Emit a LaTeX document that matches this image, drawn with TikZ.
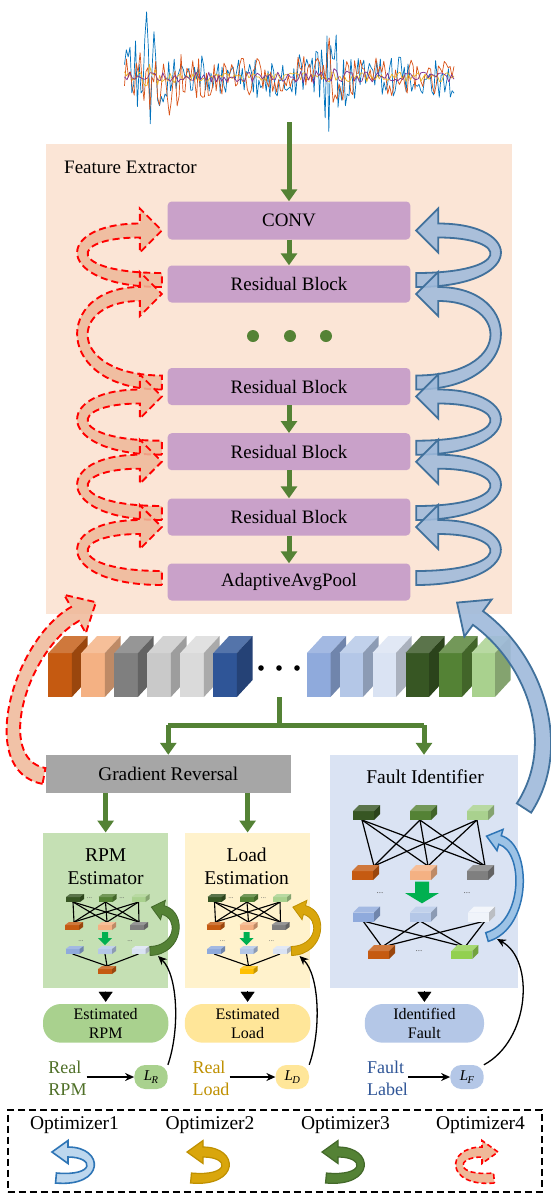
\documentclass[tikz,border=0pt]{standalone}
\usepackage{fontspec}
\setmainfont{Liberation Serif}
\usetikzlibrary{arrows.meta,calc}
\definecolor{peach}{HTML}{FBE5D6}
\definecolor{purp}{HTML}{C9A1C9}
\definecolor{gA}{HTML}{548235}
\definecolor{gAd}{HTML}{43692A}
\definecolor{gB}{HTML}{00B050}
\definecolor{grayb}{HTML}{A6A6A6}
\definecolor{faultbg}{HTML}{DAE3F3}
\definecolor{rpmbg}{HTML}{C5E0B4}
\definecolor{loadbg}{HTML}{FFF2CC}
\definecolor{pillg}{HTML}{A9D18E}
\definecolor{pilly}{HTML}{FFE699}
\definecolor{pillb}{HTML}{B4C7E7}
\definecolor{txg}{HTML}{4F7028}
\definecolor{txy}{HTML}{BF9000}
\definecolor{txb}{HTML}{2F5597}
\definecolor{ribB}{HTML}{9FBADB}
\definecolor{ribBl}{HTML}{41719C}
\definecolor{ribB2}{HTML}{9DC3E6}
\definecolor{ribBl2}{HTML}{2E75B6}
\definecolor{ribBi}{HTML}{BDD7EE}
\definecolor{ribR}{HTML}{EFB898}
\definecolor{ribRl}{HTML}{FF0000}
\definecolor{gold}{HTML}{D9A60C}
\definecolor{goldd}{HTML}{BF9000}
\definecolor{c1}{HTML}{C55A11}
\definecolor{c2}{HTML}{F4B183}
\definecolor{c3}{HTML}{7F7F7F}
\definecolor{c4}{HTML}{C9C9C9}
\definecolor{c5}{HTML}{DADADA}
\definecolor{c6}{HTML}{2F5597}
\definecolor{c7}{HTML}{8FAADC}
\definecolor{c8}{HTML}{B4C7E7}
\definecolor{c9}{HTML}{DAE3F3}
\definecolor{c10}{HTML}{375623}
\definecolor{c11}{HTML}{548235}
\definecolor{c12}{HTML}{A9D18E}
\definecolor{yel}{HTML}{FFC000}
\definecolor{lgreen}{HTML}{92D050}
\definecolor{sigb}{HTML}{0072BD}
\definecolor{sigo}{HTML}{D95319}
\definecolor{sigy}{HTML}{EDB120}
\definecolor{sigp}{HTML}{7E2F8E}
\definecolor{dotc}{HTML}{595959}

% cube: x, y (front top-left), w, h, dx, dy, colour
\newcommand\cube[7]{%
  \fill[fill=#7] (#1,#2) rectangle ({#1+#3},{#2+#4});
  \fill[fill=#7!82!white] (#1,#2) -- ({#1+#5},{#2-#6}) -- ({#1+#3+#5},{#2-#6}) -- ({#1+#3},#2) -- cycle;
  \fill[fill=#7!78!black] ({#1+#3},#2) -- ({#1+#3+#5},{#2-#6}) -- ({#1+#3+#5},{#2+#4-#6}) -- ({#1+#3},{#2+#4}) -- cycle;
}
% ribbon arrow along the curve P0 .. controls P1 and P2 .. P3
% #1-#4 points, #5 half width, #6 head half width, #7 head length, #8 fill colour, #9 outline options
\newcommand\rib[9]{%
 \coordinate (p0) at (#1); \coordinate (p1) at (#2); \coordinate (p2) at (#3); \coordinate (p3) at (#4);
 \coordinate (e1a) at ($(p0)!#5pt!90:(p1)$); \coordinate (e1b) at ($(p1)!#5pt!-90:(p0)$);
 \coordinate (e2a) at ($(p1)!#5pt!90:(p2)$); \coordinate (e2b) at ($(p2)!#5pt!-90:(p1)$);
 \coordinate (e3a) at ($(p2)!#5pt!90:(p3)$); \coordinate (e3b) at ($(p3)!#5pt!-90:(p2)$);
 \coordinate (f1a) at ($(p0)!#5pt!-90:(p1)$); \coordinate (f1b) at ($(p1)!#5pt!90:(p0)$);
 \coordinate (f2a) at ($(p1)!#5pt!-90:(p2)$); \coordinate (f2b) at ($(p2)!#5pt!90:(p1)$);
 \coordinate (f3a) at ($(p2)!#5pt!-90:(p3)$); \coordinate (f3b) at ($(p3)!#5pt!90:(p2)$);
 \coordinate (q1) at (intersection of e1a--e1b and e2a--e2b);
 \coordinate (q2) at (intersection of e2a--e2b and e3a--e3b);
 \coordinate (r1) at (intersection of f1a--f1b and f2a--f2b);
 \coordinate (r2) at (intersection of f2a--f2b and f3a--f3b);
 \coordinate (hb1) at ($(p3)!#6pt!-90:(p2)$);
 \coordinate (hb2) at ($(p3)!#6pt!90:(p2)$);
 \coordinate (ht) at ($(p3)!-#7pt!(p2)$);
 \path[fill=#8, line join=miter, #9] (e1a) .. controls (q1) and (q2) .. (e3b) -- (hb1) -- (ht) -- (hb2) -- (f3b) .. controls (r2) and (r1) .. (f1a) -- cycle;
}
\newcommand\bluecurl[2]{\rib{$(#1.east)+(5.6,-4)$}{$(#1.east)+(107.6,-4)$}{$(#2.east)+(107.6,10)$}{$(#2.east)+(27.6,10)$}{7}{22}{22}{ribB}{fill opacity=0.88, draw=ribBl, line width=1.8pt}}
\newcommand\redcurl[2]{\rib{$(#1.west)+(-5.6,-4)$}{$(#1.west)+(-107.6,-4)$}{$(#2.west)+(-107.6,10)$}{$(#2.west)+(-27.6,10)$}{7}{22}{22}{ribR}{fill opacity=0.85, draw=ribRl, line width=1.9pt, dash pattern=on 7pt off 4pt}}
\newcommand\Lsub[1]{\textit{L}\kern-0.5pt\raisebox{-3pt}{\fontsize{10.5}{10.5}\selectfont\textit{#1}}}

\newcommand\smallnet[3]{% x offset, bottom colour, prefix
\begin{scope}[xshift=#1pt]
 \coordinate (#3u1) at (73,902); \coordinate (#3u2) at (105.5,902); \coordinate (#3u3) at (138.5,902);
 \coordinate (#3d1) at (74,922); \coordinate (#3d2) at (107,922); \coordinate (#3d3) at (139,922);
 \foreach \a in {1,2,3}{\foreach \b in {1,2,3}{\draw[net] (#3u\a) -- (#3d\b);}}
 \coordinate (#3v1) at (72.6,954); \coordinate (#3v2) at (105,954); \coordinate (#3v3) at (138.5,954);
 \coordinate (#3w) at (107,966);
 \foreach \a in {1,2,3}{\draw[net] (#3v\a) -- (#3w);}
 \cube{66}{897}{14}{5}{4}{3}{c10}\cube{98.5}{897}{14}{5}{4}{3}{c11}\cube{131.5}{897}{14}{5}{4}{3}{c12}
 \cube{65}{925}{14}{5}{4}{3}{c1}\cube{98}{925}{14}{5}{4}{3}{c2}\cube{130}{925}{14}{5}{4}{3}{c3}
 \cube{65.6}{949}{14}{5}{4}{3}{c7}\cube{98}{949}{14}{5}{4}{3}{c8}\cube{131.5}{949}{14}{5}{4}{3}{c9}
 \cube{98}{969}{14}{5}{4}{3}{#2}
 \node[dots] (#3da) at (89.5,898) {...};
 \node[dots] (#3db) at (122,898) {...};
 \node[dots] (#3dc) at (81,941) {...};
 \node[dots] (#3dd) at (130,941) {...};
 \fill[gB] (102,932) -- (108,932) -- (108,938) -- (112,938) -- (105,945) -- (98,938) -- (102,938) -- cycle;
\end{scope}}

\begin{document}
\begin{tikzpicture}[x=1pt,y=-1pt,
  box/.style={fill=purp, rounded corners=4pt, minimum width=242.7pt, minimum height=37pt, inner sep=0, font=\fontsize{19}{22}\selectfont},
  garrow/.style={gA, line width=5pt, -{Triangle[length=12pt,width=16pt]}},
  gline/.style={gA, line width=5pt},
  net/.style={black, line width=1.1pt},
  barrow/.style={black, line width=1.3pt, -{Stealth[length=9pt,width=8pt]}},
  tri/.style={black, line width=0.3pt, shorten <=3pt, shorten >=2pt, -{Triangle[length=10pt,width=14pt]}},
  pill/.style={rounded corners=18pt, minimum height=38.7pt, inner sep=0, align=center, font=\fontsize{16}{19}\selectfont},
  lnode/.style={rounded corners=11pt, minimum width=33.4pt, minimum height=24pt, inner sep=0, font=\fontsize{15}{15}\selectfont},
  txt/.style={inner sep=0, align=left, font=\fontsize{18}{22}\selectfont},
  ttl/.style={inner sep=0, align=center, font=\fontsize{19.5}{23}\selectfont},
  dots/.style={inner sep=0, text=dotc, font=\fontsize{7}{7}\selectfont},
  opt/.style={inner sep=0, font=\fontsize{19.5}{20}\selectfont}]
\useasboundingbox (0,0) rectangle (550,1203);
\fill[white] (0,0) rectangle (550,1203);

% ---------------- signal
\pgfmathsetseed{1234}
\draw[sigb, line width=0.7pt, line join=round] plot[domain=124.5:454, samples=180, variable=\xx] (\xx,{77+(20+52/(1+((\xx-146)/8)*((\xx-146)/8))+48/(1+((\xx-331)/7)*((\xx-331)/7)))*rand});
\draw[sigo, line width=0.7pt, line join=round] plot[domain=124.5:454, samples=170, variable=\xx] (\xx,{77+(18+38/(1+((\xx-162)/10)*((\xx-162)/10))+36/(1+((\xx-335)/8)*((\xx-335)/8)))*rand});
\draw[sigy, line width=0.7pt, line join=round] plot[domain=124.5:454, samples=160, variable=\xx] (\xx,{77+(5+8/(1+((\xx-150)/10)*((\xx-150)/10)))*rand});
\draw[sigp, line width=0.7pt, line join=round] plot[domain=124.5:454, samples=130, variable=\xx] (\xx,{77+(5+6/(1+((\xx-330)/10)*((\xx-330)/10)))*rand});
\coordinate (sig) at (289,122);

% ---------------- feature extractor
\node[fill=peach, minimum width=466.4pt, minimum height=470pt, inner sep=0, anchor=north west] (fe) at (45.6,144) {};
\node[anchor=west, inner sep=0, font=\fontsize{19}{19}\selectfont] (fetitle) at (64,167) {Feature Extractor};

\node[box, minimum height=38pt] (conv) at (289,220.5) {CONV};
\node[box] (rb1) at (289,284) {Residual Block};
\node[box] (rb2) at (289,386.5) {Residual Block};
\node[box] (rb3) at (289,451.7) {Residual Block};
\node[box] (rb4) at (289,517) {Residual Block};
\node[box] (aap) at (289,582) {AdaptiveAvgPool};
\foreach \xx in {253,290,326} \fill[gA] (\xx,336) circle (6);

\draw[garrow] (sig) -- (conv.north);
\draw[garrow] (conv.south) -- (rb1.north);
\draw[garrow] (rb2.south) -- (rb3.north);
\draw[garrow] (rb3.south) -- (rb4.north);
\draw[garrow] (rb4.south) -- (aap.north);

% curls
\bluecurl{rb1}{conv}
\bluecurl{rb2}{rb1}
\bluecurl{rb3}{rb2}
\bluecurl{rb4}{rb3}
\bluecurl{aap}{rb4}
\redcurl{rb1}{conv}
\redcurl{rb2}{rb1}
\redcurl{rb3}{rb2}
\redcurl{rb4}{rb3}
\redcurl{aap}{rb4}

% ---------------- feature cubes
\foreach \xx/\cc in {48.4/c1,81.4/c2,114.4/c3,147.4/c4,180.4/c5,213.4/c6,307/c7,339.5/c8,372.5/c9,405.5/c10,438.5/c11,471.5/c12}
  {\cube{\xx}{653}{23.5}{44}{15.7}{17}{\cc}}
\foreach \xx in {261,279,297} \fill[black] (\xx,668) circle (2.8);

% ---------------- lower boxes
\node[fill=grayb, minimum width=245.4pt, minimum height=38pt, inner sep=0, font=\fontsize{19.3}{22}\selectfont] (gr) at (168.3,774) {Gradient Reversal};
\node[fill=faultbg, minimum width=188.4pt, minimum height=233pt, inner sep=0] (fault) at (424,871.5) {};
\node[ttl] (faultt) at (425,777) {Fault Identifier};
\node[fill=rpmbg, minimum width=124.7pt, minimum height=155.3pt, inner sep=0] (rpm) at (105.65,910.35) {};
\node[fill=loadbg, minimum width=125.6pt, minimum height=155.3pt, inner sep=0] (load) at (247.6,910.35) {};
\node[ttl] (rpmt) at (105.6,866.5) {RPM\\Estimator};
\node[ttl] (loadt) at (246.7,866.5) {Load\\Estimation};

\coordinate (cubesbot) at (279.5,697);
\coordinate (split) at (279.5,725);
\draw[gline] (cubesbot) -- (split);
\draw[gA, line width=5pt] (gr.north |- split) -- (fault.north |- split);
\draw[garrow] (gr.north |- split) -- (gr.north);
\draw[garrow] (fault.north |- split) -- (fault.north);
\draw[garrow] (rpm.north |- gr.south) -- (rpm.north);
\draw[garrow] (load.north |- gr.south) -- (load.north);

% ---------------- small networks
\smallnet{0}{c1}{r}
\smallnet{141.5}{yel}{l}

% fault network
\coordinate (fu1) at (362,820); \coordinate (fu2) at (420,820); \coordinate (fu3) at (477,820);
\coordinate (fd1) at (374,866); \coordinate (fd2) at (428,866); \coordinate (fd3) at (485,866);
\foreach \a in {1,2,3}{\foreach \b in {1,2,3}{\draw[net, line width=1.2pt] (fu\a) -- (fd\b);}}
\coordinate (fv1) at (363,921); \coordinate (fv2) at (420,921); \coordinate (fv3) at (485,921);
\coordinate (fw1) at (382,947); \coordinate (fw2) at (465,947);
\foreach \a in {1,2,3}{\foreach \b in {1,2}{\draw[net, line width=1.2pt] (fv\a) -- (fw\b);}}
\cube{353}{811}{21}{9}{6}{6}{c10}\cube{410}{811}{21}{9}{6}{6}{c11}\cube{467}{811}{21}{9}{6}{6}{c12}
\cube{352}{871}{21}{9}{6}{6}{c1}\cube{410}{871}{21}{9}{6}{6}{c2}\cube{467}{871}{21}{9}{6}{6}{c3}
\cube{353}{912.7}{21}{9}{6}{6}{c7}\cube{410}{912.7}{21}{9}{6}{6}{c8}\cube{468}{912.7}{21}{9}{6}{6}{c9!40!white}
\cube{368}{951}{21}{8}{6}{6}{c1}\cube{451.4}{951}{21}{8}{6}{6}{lgreen}
\fill[gB] (415,881.7) -- (429,881.7) -- (429,893) -- (439,893) -- (422,903.3) -- (405,893) -- (415,893) -- cycle;
\node[dots, font=\fontsize{9}{9}\selectfont] (fda) at (380,893) {...};
\node[dots, font=\fontsize{9}{9}\selectfont] (fdb) at (467,893) {...};
\node[dots, font=\fontsize{9}{9}\selectfont] (fdc) at (419,951) {...};

% inner curled arrows
\rib{150,951}{180,950}{183,915}{163,910}{4.5}{10}{12}{gA}{draw=gAd, line width=0.8pt}
\rib{291.5,951}{321.5,950}{324.5,915}{304.5,910}{4.5}{10}{12}{gold}{draw=goldd, line width=0.8pt}
\rib{487,937}{528,925}{528,848}{500,840}{4.5}{11}{14}{ribB2}{draw=ribBl2, line width=1.5pt}

% big arrows
\coordinate (bbtail) at (524,808);
\coordinate (bbhead) at (478,618);
\rib{bbtail}{565,745}{535,660}{bbhead}{8.5}{23}{26}{ribB}{fill opacity=0.9, draw=ribBl, line width=1.8pt}
\coordinate (brtail) at (44,776);
\coordinate (brhead) at (75,614);
\rib{brtail}{-15,765}{20,645}{brhead}{8}{22}{24}{ribR}{fill opacity=0.85, draw=ribRl, line width=1.9pt, dash pattern=on 7pt off 4pt}

% ---------------- outputs
\node[pill, fill=pillg, minimum width=125.4pt] (estrpm) at (105.7,1023.35) {Estimated\\RPM};
\node[pill, fill=pilly, minimum width=125.6pt] (estload) at (247.6,1023.35) {Estimated\\Load};
\node[pill, fill=pillb, minimum width=119.2pt] (idfault) at (424.4,1023.35) {Identified\\Fault};
\draw[tri] (rpm.south) -- (estrpm.north);
\draw[tri] (load.south) -- (estload.north);
\draw[tri] (idfault.north |- fault.south) -- (idfault.north);

\node[txt, text=txg] (realrpm) at (67.5,1078) {Real\\RPM};
\node[txt, text=txy] (realload) at (211,1078) {Real\\Load};
\node[txt, text=txb] (faultlabel) at (387.5,1078) {Fault\\Label};
\node[lnode, fill=pillg] (lr) at (151,1077) {\Lsub{R}};
\node[lnode, fill=pilly] (ld) at (292.3,1077) {\Lsub{D}};
\node[lnode, fill=pillb] (lf) at (467,1077) {\Lsub{F}};
\draw[barrow] (realrpm.east |- lr.west) -- (lr.west);
\draw[barrow] (realload.east |- ld.west) -- (ld.west);
\draw[barrow] (faultlabel.east |- lf.west) -- (lf.west);
\coordinate (rtail) at (158,956);
\coordinate (ltail) at (299.5,956);
\coordinate (ftail) at (497,939);
\draw[barrow] (lr.north east) .. controls (180,1030) and (178,975) .. (rtail);
\draw[barrow] (ld.north east) .. controls (321.5,1030) and (319.5,975) .. (ltail);
\draw[barrow] (lf.north east) .. controls (530,1040) and (535,960) .. (ftail);

% ---------------- legend
\node[draw, line width=1.8pt, dash pattern=on 7pt off 4pt, minimum width=534.3pt, minimum height=81.7pt, inner sep=0] (legend) at (274.85,1150.85) {};
\node[opt] (opt1) at (74.5,1125) {Optimizer1};
\node[opt] (opt2) at (210,1125) {Optimizer2};
\node[opt] (opt3) at (345.5,1125) {Optimizer3};
\node[opt] (opt4) at (480.5,1125) {Optimizer4};
\rib{56,1178}{100,1182}{100,1152}{68,1152}{5}{11.5}{16}{ribBi}{draw=ribBl2, line width=1.6pt}
\rib{191,1178}{235,1182}{235,1152}{203,1152}{5}{11.5}{16}{gold}{draw=goldd, line width=1.2pt}
\rib{326,1178}{370,1182}{370,1152}{338,1152}{5}{11.5}{16}{gA}{draw=gAd, line width=1.2pt}
\rib{494,1178}{450,1182}{450,1152}{482,1152}{5}{11.5}{16}{ribR}{draw=ribRl, line width=1.6pt, dash pattern=on 5pt off 3pt}
\end{tikzpicture}
\end{document}
